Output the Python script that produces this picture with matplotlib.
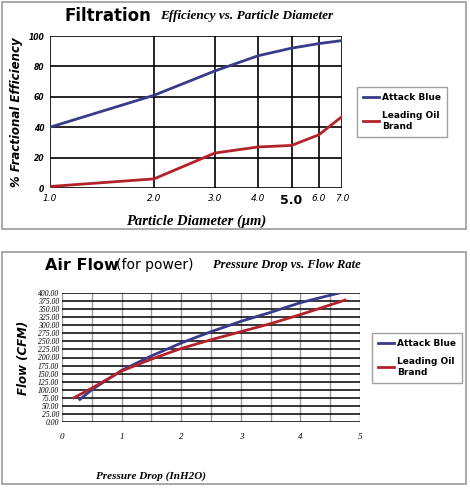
import matplotlib
matplotlib.use("Agg")
import matplotlib.pyplot as plt
from matplotlib.patches import Rectangle

# Filtration data
diam = [1.0, 2.0, 3.0, 4.0, 5.0, 6.0, 7.0]
diam_labels = ["1.0", "2.0", "3.0", "4.0", "5.0", "6.0", "7.0"]
eff_blue = [40, 61, 77, 87, 92, 95, 97]
eff_red = [1, 6, 23, 27, 28, 35, 47]

# Air flow data
p_blue = [0.3, 0.5, 1.0, 1.5, 2.0, 2.5, 3.0, 3.5, 4.0, 4.65]
f_blue = [70, 100, 160, 205, 245, 280, 312, 340, 370, 400]
p_red = [0.2, 0.5, 1.0, 1.5, 2.0, 2.5, 3.0, 3.5, 4.0, 4.75]
f_red = [75, 105, 158, 195, 228, 255, 280, 305, 333, 378]

W, H = 470, 488
fig = plt.figure(figsize=(W/100, H/100), dpi=100)
BLUE = "#3a3a8c"; RED = "#b3222a"

def fr(x0, y0, x1, y1):
    return [x0/W, 1-y1/H, (x1-x0)/W, (y1-y0)/H]

for (a, b, c, d) in [(2, 2, 466, 229), (2, 252, 466, 484)]:
    fig.patches.append(Rectangle((a/W, 1-d/H), (c-a)/W, (d-b)/H, transform=fig.transFigure,
                                 fill=False, ec="#999999", lw=1.2))

# Top chart
ax = fig.add_axes(fr(50, 36, 342, 188))
ax.set_xscale("log")
ax.plot(diam, eff_blue, color=BLUE, lw=2)
ax.plot(diam, eff_red, color=RED, lw=2)
ax.set_xlim(1, 7); ax.set_ylim(0, 100)
ax.set_xticks(diam); ax.set_xticklabels(diam_labels, style="italic", fontsize=6.5)
ax.minorticks_off()
ax.get_xticklabels()[4].set_fontsize(9); ax.get_xticklabels()[4].set_fontweight("bold"); ax.get_xticklabels()[4].set_style("normal")
ax.set_yticks(range(0, 101, 20))
ax.set_yticklabels([str(v) for v in range(0, 101, 20)], style="italic", fontsize=5.5, fontweight="bold")
ax.grid(True, color="black", lw=1.2)
ax.tick_params(length=0, pad=4)
for s in ax.spines.values(): s.set_visible(False)
ax.set_xlabel("Particle Diameter (\u03bcm)", family="Liberation Serif", style="italic", fontweight="bold", fontsize=10.5, labelpad=6)
ax.set_ylabel("% Fractional Efficiency", style="italic", fontweight="bold", fontsize=8.5)
fig.text(65/W, 1-16/H, "Filtration", fontsize=12, fontweight="bold", va="center")
fig.text(160/W, 1-16/H, "Efficiency vs. Particle Diameter", family="Liberation Serif", style="italic", fontweight="bold", fontsize=9.5, va="center")
lg = ax.legend(["Attack Blue", "Leading Oil\nBrand"], loc="center left", bbox_to_anchor=(352/W, 1-112/H),
               bbox_transform=fig.transFigure, fontsize=6.5, frameon=True, fancybox=False, edgecolor="#888888",
               handlelength=1.8, handletextpad=0.3, labelspacing=1.0, borderpad=0.7)
for t in lg.get_texts(): t.set_fontweight("bold")

# Bottom chart
ax2 = fig.add_axes(fr(62, 293, 360, 422))
ax2.plot(p_blue, f_blue, color=BLUE, lw=2)
ax2.plot(p_red, f_red, color=RED, lw=2)
ax2.set_xlim(0, 5); ax2.set_ylim(0, 400)
ax2.set_xticks(range(6))
ax2.set_xticklabels([str(i) for i in range(6)], family="Liberation Serif", style="italic", fontsize=6.5)
ax2.set_xticks([0.5, 1.5, 2.5, 3.5, 4.5], minor=True)
yt = list(range(0, 401, 25))
ax2.set_yticks(yt)
ax2.set_yticklabels([f"{v:.2f}" for v in yt], family="Liberation Serif", style="italic", fontsize=5.5)
ax2.grid(True, axis="y", color="black", lw=1.1)
ax2.grid(True, axis="x", which="both", color="#999999", lw=1)
ax2.tick_params(length=0, pad=8, which="both")
ax2.tick_params(axis="y", pad=2)
for s in ax2.spines.values(): s.set_visible(False)
ax2.set_xlabel("Pressure Drop (InH2O)", family="Liberation Serif", style="italic", fontweight="bold", fontsize=8, labelpad=22, x=0.3)
ax2.set_ylabel("Flow (CFM)", style="italic", fontweight="bold", fontsize=8.5, labelpad=6)
fig.text(45/W, 1-265/H, "Air Flow", fontsize=11.5, fontweight="bold", va="center")
fig.text(116/W, 1-265/H, "(for power)", fontsize=10, va="center")
fig.text(213/W, 1-265/H, "Pressure Drop vs. Flow Rate", family="Liberation Serif", style="italic", fontweight="bold", fontsize=9, va="center")
lg2 = ax2.legend(["Attack Blue", "Leading Oil\nBrand"], loc="center left", bbox_to_anchor=(367/W, 1-358/H),
                 bbox_transform=fig.transFigure, fontsize=6.5, frameon=True, fancybox=False, edgecolor="#888888",
                 handlelength=1.8, handletextpad=0.3, labelspacing=1.0, borderpad=0.7)
for t in lg2.get_texts(): t.set_fontweight("bold")

fig.savefig("out.png", dpi=100, facecolor="white")
